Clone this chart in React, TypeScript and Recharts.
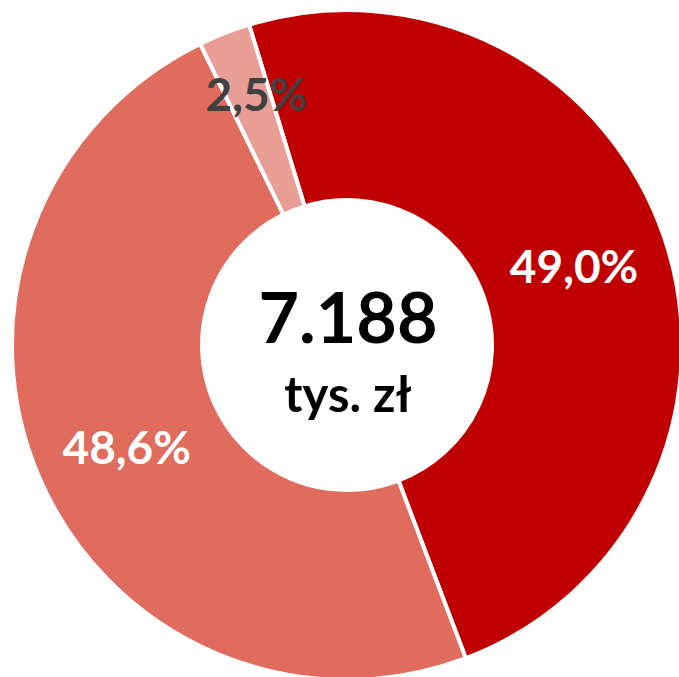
import React from "react";
import { PieChart, Pie, Cell } from "recharts";

// shares of the total, clockwise starting just left of 12 o'clock
const segments = ["A", "B", "C"];
const shares = [49.0, 48.6, 2.5];
const shareLabels = ["49,0%", "48,6%", "2,5%"];
const colors = ["#C00000", "#E06C5D", "#E99E95"];
const labelColors = ["#FFFFFF", "#FFFFFF", "#404040"];

const totalValue = "7.188";
const totalUnit = "tys. zł";

const rows = segments.map((name, i) => ({ name, value: shares[i] }));

const FONT = "Lato, 'Open Sans', sans-serif";
const RAD = Math.PI / 180;

function renderLabel(props: any) {
  const { cx, cy, midAngle, innerRadius, outerRadius, index, percent } = props;
  // small slice: Excel pushes the label outward toward the rim
  const small = percent < 0.05;
  const r = small ? outerRadius - 66 : (innerRadius + outerRadius) / 2;
  const x = cx + r * Math.cos(-midAngle * RAD) + (small ? 8 : 0);
  let y = cy + r * Math.sin(-midAngle * RAD);
  if (!small && y > cy) y += 8; // lower label sits a bit lower in the original
  return (
    <text
      x={x}
      y={y + 16}
      textAnchor="middle"
      fill={labelColors[index]}
      fontFamily={FONT}
      fontWeight={700}
      fontSize={46}
    >
      {shareLabels[index]}
    </text>
  );
}

export default function App() {
  const W = 679;
  const H = 677;
  const CX = 347;
  const CY = 345;
  return (
    <div style={{ position: "absolute", left: 0, top: 0, width: W, height: H, background: "#fff" }}>
      <PieChart width={W} height={H} margin={{ top: 0, right: 0, bottom: 0, left: 0 }}>
        <Pie
          data={rows}
          dataKey="value"
          nameKey="name"
          cx={CX}
          cy={CY}
          innerRadius={145}
          outerRadius={335}
          startAngle={107}
          endAngle={-253}
          stroke="#FFFFFF"
          strokeWidth={4}
          label={renderLabel}
          labelLine={false}
          isAnimationActive={false}
        >
          {rows.map((_, i) => (
            <Cell key={`cell-${i}`} fill={colors[i]} />
          ))}
        </Pie>
      </PieChart>
      {/* centre total, drawn over the hole */}
      <svg width={W} height={H} style={{ position: "absolute", left: 0, top: 0, pointerEvents: "none" }}>
        <text x={348} y={343} textAnchor="middle" fontFamily={FONT} fontWeight={700} fontSize={70} fill="#000">
          {totalValue}
        </text>
        <text x={348} y={412} textAnchor="middle" fontFamily={FONT} fontWeight={700} fontSize={49} fill="#000">
          {totalUnit}
        </text>
      </svg>
    </div>
  );
}
